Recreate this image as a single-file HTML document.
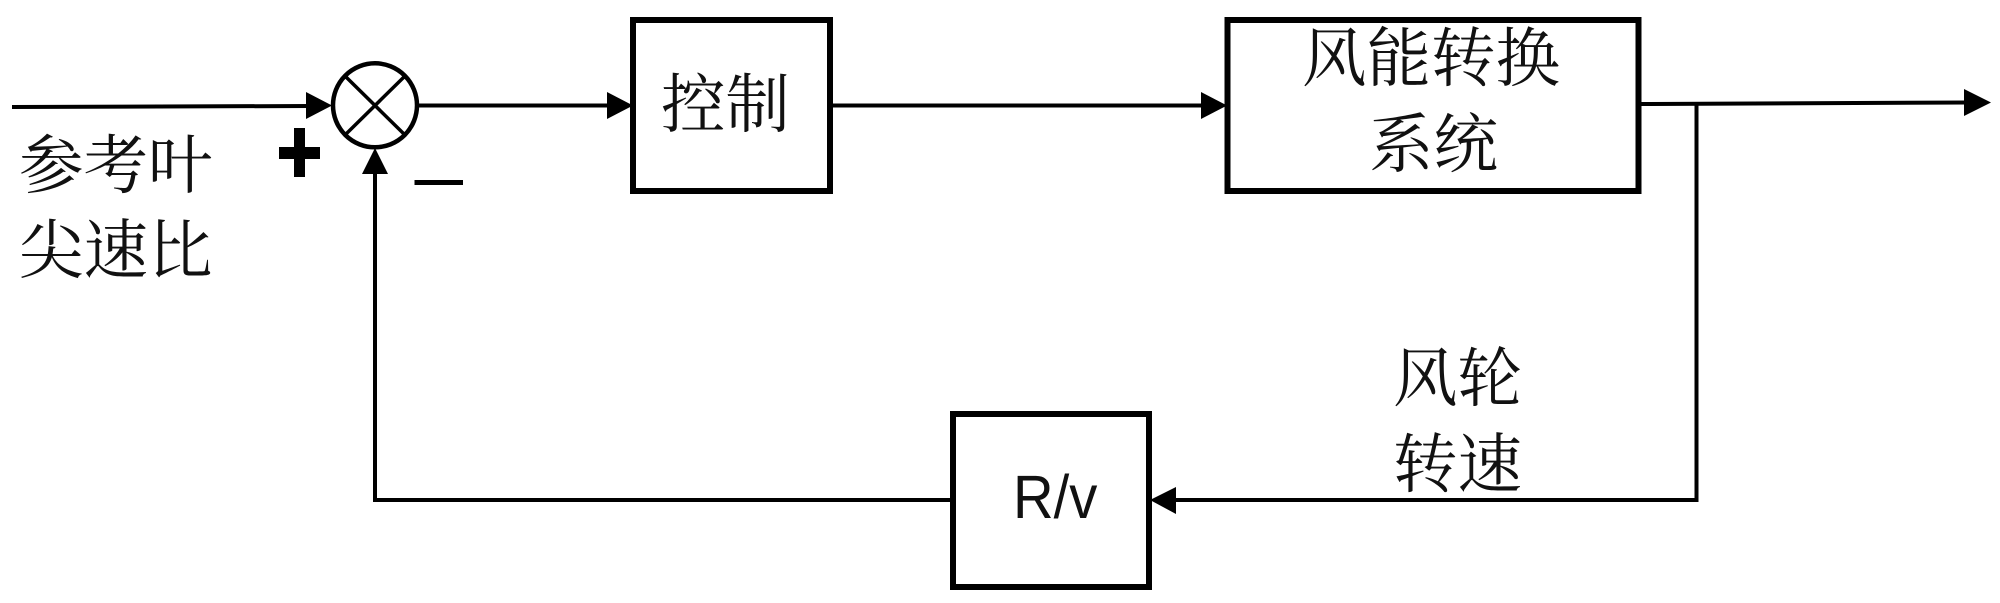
<!DOCTYPE html>
<html><head><meta charset="utf-8">
<style>
html,body{margin:0;padding:0;background:#fff;width:2000px;height:603px;overflow:hidden}
svg{display:block}
text{font-family:"Noto Serif CJK SC","Liberation Serif",serif;font-size:64.5px;fill:#111}
.s{font-family:"Liberation Sans",sans-serif;font-size:58px}
</style></head><body>
<svg width="2000" height="603" viewBox="0 0 2000 603" xmlns="http://www.w3.org/2000/svg">
<rect width="2000" height="603" fill="#fff"/>
<g fill="none" stroke="#000">
<!-- boxes -->
<rect x="633" y="20" width="197" height="171" stroke-width="6"/>
<rect x="1227.5" y="20" width="411" height="171" stroke-width="6"/>
<rect x="953" y="414" width="196" height="173" stroke-width="6"/>
<!-- summing junction -->
<ellipse cx="375" cy="105.3" rx="42" ry="42" stroke-width="4.5"/>
<line x1="345" y1="76" x2="405" y2="135" stroke-width="3.5"/>
<line x1="405" y1="76" x2="345" y2="135" stroke-width="3.5"/>
<!-- connectors -->
<line x1="12" y1="107" x2="310" y2="106" stroke-width="4"/>
<line x1="418" y1="105.5" x2="610" y2="105.5" stroke-width="4"/>
<line x1="832" y1="105.5" x2="1205" y2="105.5" stroke-width="4"/>
<line x1="1641" y1="104" x2="1968" y2="102.5" stroke-width="4"/>
<polyline points="1696.5,104 1696.5,500 1172,500" stroke-width="4"/>
<polyline points="951,500 375,500 375,170" stroke-width="4"/>
</g>
<g fill="#000">
<polygon points="332,105.5 306,92 306,119"/>
<polygon points="633,105.5 607,92 607,119"/>
<polygon points="1227,105.5 1201,92 1201,119"/>
<polygon points="1991,102.5 1964,89 1964,116"/>
<polygon points="1150,500 1176,487 1176,514"/>
<polygon points="375,148 362,174 388,174"/>
<!-- plus/minus -->
<rect x="279" y="147" width="41" height="12"/>
<rect x="294" y="128" width="11" height="49"/>
<rect x="414.5" y="180" width="48.5" height="5"/>
</g>
<text x="19" y="188">参考叶</text>
<text x="19" y="273">尖速比</text>
<text x="661" y="127">控制</text>
<text x="1302" y="81">风能转换</text>
<text x="1369" y="167">系统</text>
<text x="1393" y="401">风轮</text>
<text x="1393" y="487">转速</text>
<text class="s" transform="translate(1013 518) scale(0.97 1.06)" x="0" y="0">R/v</text>
</svg>
</body></html>
